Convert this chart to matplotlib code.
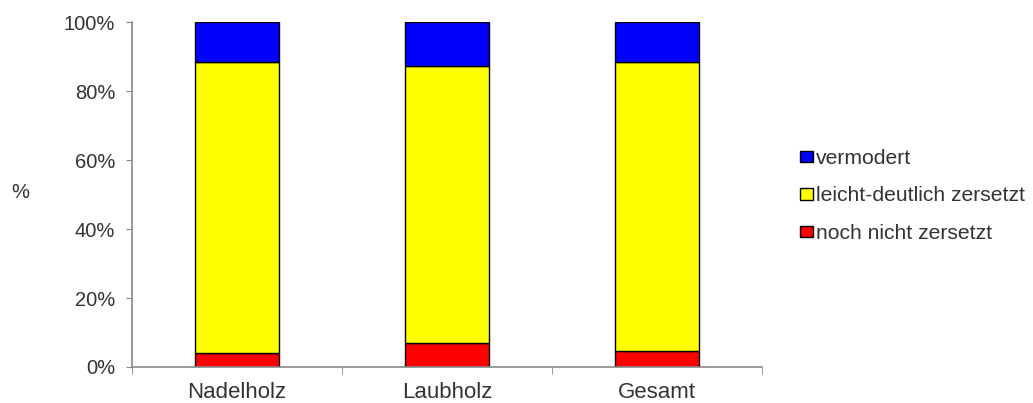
import numpy as np
import matplotlib
matplotlib.use("Agg")
import matplotlib.pyplot as plt
import matplotlib.patches as ptc
from matplotlib.ticker import PercentFormatter

categories = ["Nadelholz", "Laubholz", "Gesamt"]
noch_nicht = [4.2, 7.0, 4.6]
leicht_deutlich = [84.2, 80.2, 83.9]
vermodert = [100 - a - b for a, b in zip(noch_nicht, leicht_deutlich)]

series = [("noch nicht zersetzt", noch_nicht, "#ff0000"),
          ("leicht-deutlich zersetzt", leicht_deutlich, "#ffff00"),
          ("vermodert", vermodert, "#0000ff")]

plt.rcParams['font.family'] = ['Liberation Sans', 'DejaVu Sans']
txt = '#333333'
axc = '#888888'

fig = plt.figure(figsize=(10.33, 4.03), dpi=100)
ax = fig.add_axes([132/1033, 36/403, 630/1033, 345/403])

x = np.arange(len(categories))
bottom = np.zeros(len(categories))
handles = []
for name, vals, col in series:
    ax.bar(x, vals, 0.4, bottom=bottom, color=col, edgecolor='black', linewidth=1.0)
    bottom += np.array(vals)
    handles.append(ptc.Patch(facecolor=col, edgecolor='black', label=name))

ax.set_xlim(-0.5, len(categories) - 0.5)
ax.set_ylim(0, 100)
ax.set_yticks(np.arange(0, 101, 20))
ax.yaxis.set_major_formatter(PercentFormatter(decimals=0))
ax.set_xticks(x)
ax.set_xticklabels(categories, fontsize=16, color=txt)
ax.set_xticks(np.arange(-0.5, len(categories)), minor=True)
ax.tick_params(axis='x', which='major', length=0, pad=11)
ax.tick_params(axis='x', which='minor', length=5, direction='out', color=axc)
ax.tick_params(axis='y', length=4, color=axc, labelsize=14.5, labelcolor=txt, pad=8)

for s in ['top', 'right']:
    ax.spines[s].set_visible(False)
for s in ['left', 'bottom']:
    ax.spines[s].set_color(axc)
    ax.spines[s].set_linewidth(1.2)

fig.text(20/1033, 1 - 192/403, "%", fontsize=14.5, color=txt, ha='center', va='center')

leg = fig.legend(handles=handles[::-1], loc='center left', bbox_to_anchor=(800/1033, 1 - 196/403),
                 frameon=False, fontsize=15.2, handlelength=0.62, handleheight=0.47,
                 handletextpad=0.15, labelspacing=0.87, labelcolor=txt,
                 borderpad=0, borderaxespad=0)

fig.savefig("out.png", dpi=100)
